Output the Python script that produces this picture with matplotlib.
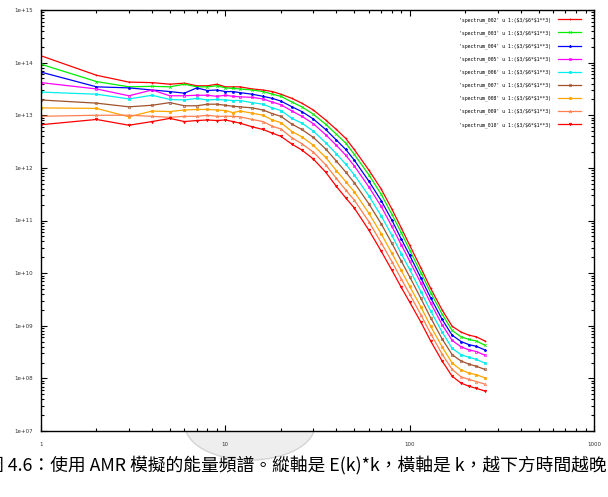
import numpy as np
import matplotlib
matplotlib.use('Agg')
import matplotlib.pyplot as plt
from matplotlib.patches import Ellipse
from matplotlib.ticker import FixedLocator, LogLocator, FuncFormatter, NullFormatter

plt.rcParams['text.parse_math'] = False

# wavenumber k (read positions along the curves)
k = [1, 2, 3, 4, 5, 6, 7, 8, 9, 10, 11, 12, 14, 16, 18, 20, 23, 26, 30, 35,
     40, 45, 50, 60, 70, 80, 90, 100, 115, 130, 150, 170, 190, 210, 230, 256]

# log10 of E(k)*k, one list per output file
spec_002 = [14.13, 13.76, 13.63, 13.62, 13.59, 13.61, 13.56, 13.56, 13.59, 13.54, 13.54, 13.54,
            13.50, 13.48, 13.45, 13.40, 13.32, 13.23, 13.10, 12.91, 12.73, 12.56, 12.35, 11.96,
            11.60, 11.22, 10.86, 10.53, 10.10, 9.71, 9.30, 8.99, 8.88, 8.82, 8.79, 8.71]
spec_003 = [13.97, 13.64, 13.54, 13.55, 13.54, 13.59, 13.54, 13.54, 13.56, 13.52, 13.51, 13.50,
            13.48, 13.45, 13.40, 13.36, 13.25, 13.16, 13.02, 12.83, 12.64, 12.47, 12.26, 11.87,
            11.50, 11.12, 10.77, 10.44, 10.01, 9.63, 9.22, 8.91, 8.79, 8.74, 8.71, 8.63]
spec_004 = [13.82, 13.54, 13.52, 13.48, 13.45, 13.42, 13.52, 13.47, 13.48, 13.45, 13.45, 13.43,
            13.40, 13.36, 13.32, 13.27, 13.16, 13.07, 12.93, 12.73, 12.53, 12.35, 12.15, 11.75,
            11.38, 11.01, 10.65, 10.34, 9.91, 9.53, 9.12, 8.82, 8.70, 8.64, 8.61, 8.54]
spec_005 = [13.62, 13.50, 13.37, 13.48, 13.37, 13.37, 13.38, 13.38, 13.36, 13.38, 13.36, 13.35,
            13.34, 13.31, 13.25, 13.20, 13.08, 12.98, 12.84, 12.63, 12.43, 12.24, 12.04, 11.64,
            11.27, 10.89, 10.54, 10.23, 9.81, 9.43, 9.02, 8.72, 8.60, 8.54, 8.51, 8.44]
spec_006 = [13.44, 13.40, 13.31, 13.38, 13.30, 13.29, 13.32, 13.29, 13.30, 13.29, 13.28, 13.28,
            13.24, 13.21, 13.14, 13.09, 12.94, 12.85, 12.70, 12.48, 12.27, 12.07, 11.87, 11.47,
            11.09, 10.72, 10.37, 10.07, 9.65, 9.28, 8.88, 8.57, 8.45, 8.40, 8.36, 8.29]
spec_007 = [13.29, 13.23, 13.16, 13.19, 13.24, 13.18, 13.18, 13.21, 13.21, 13.19, 13.17, 13.16,
            13.14, 13.10, 13.03, 12.98, 12.83, 12.73, 12.58, 12.36, 12.13, 11.92, 11.72, 11.32,
            10.94, 10.57, 10.23, 9.93, 9.52, 9.15, 8.75, 8.45, 8.33, 8.27, 8.23, 8.17]
spec_008 = [13.14, 13.13, 12.97, 13.08, 13.07, 13.10, 13.11, 13.11, 13.10, 13.09, 13.05, 13.08,
            13.04, 13.00, 12.91, 12.86, 12.69, 12.59, 12.43, 12.20, 11.95, 11.74, 11.55, 11.14,
            10.75, 10.38, 10.05, 9.75, 9.36, 8.99, 8.60, 8.29, 8.16, 8.10, 8.07, 8.01]
spec_009 = [12.98, 13.00, 13.00, 12.98, 12.96, 12.98, 12.98, 13.00, 12.98, 12.98, 12.98, 12.97,
            12.92, 12.88, 12.79, 12.74, 12.57, 12.46, 12.30, 12.06, 11.80, 11.58, 11.39, 10.98,
            10.58, 10.22, 9.89, 9.60, 9.21, 8.85, 8.46, 8.17, 8.03, 7.98, 7.94, 7.89]
spec_010 = [12.82, 12.92, 12.81, 12.88, 12.94, 12.88, 12.90, 12.91, 12.90, 12.91, 12.88, 12.85,
            12.78, 12.73, 12.66, 12.60, 12.45, 12.34, 12.17, 11.92, 11.65, 11.43, 11.24, 10.82,
            10.42, 10.06, 9.73, 9.45, 9.07, 8.71, 8.33, 8.04, 7.91, 7.85, 7.81, 7.76]

names = ['002', '003', '004', '005', '006', '007', '008', '009', '010']
series = [spec_002, spec_003, spec_004, spec_005, spec_006, spec_007, spec_008, spec_009, spec_010]

# gnuplot-ish default colours and point types
colors = ['#ff0000', '#00ee00', '#0000ff', '#ff00ff', '#00eeee', '#a0522d', '#ffa500', '#ff7f50', '#ff0000']
markers = ['+', 'x', '*', 's', 's', 'o', 'o', '^', 'v']
fills = ['none', 'none', 'full', 'none', 'full', 'none', 'full', 'none', 'full']

fig = plt.figure(figsize=(6.08, 4.97), dpi=100)

# faint seal showing through the scanned page, under the plot
fig.patches.append(Ellipse((250/608, 1 - 425/497), 130/608, 70/497, transform=fig.transFigure,
                           facecolor='#eeeeee', edgecolor='#d4d4d4', lw=1.0, zorder=-5))

ax = fig.add_axes([41/608, 1 - 431/497, (594-41)/608, (431-10)/497])
ax.set_zorder(1)

for name, vals, c, m, fs in zip(names, series, colors, markers, fills):
    ax.plot(k, 10**np.array(vals), color=c, lw=0.9, marker=m, ms=1.8, mew=0.5,
            fillstyle=fs, label="'spectrum_%s' u 1:($3/$6*$1**3)" % name)

ax.set_xscale('log')
ax.set_yscale('log')
ax.set_xlim(1, 1000)
ax.set_ylim(1e7, 1e15)

ax.xaxis.set_major_locator(FixedLocator([1, 10, 100, 1000]))
ax.xaxis.set_major_formatter(FuncFormatter(lambda v, _: '%d' % v))
ax.yaxis.set_major_locator(FixedLocator([10.0**e for e in range(7, 16)]))
ax.yaxis.set_major_formatter(FuncFormatter(lambda v, _: '%.0e' % v))
ax.xaxis.set_minor_locator(LogLocator(base=10, subs=np.arange(2, 10)))
ax.yaxis.set_minor_locator(LogLocator(base=10, subs=np.arange(2, 10)))
ax.xaxis.set_minor_formatter(NullFormatter())
ax.yaxis.set_minor_formatter(NullFormatter())

ax.tick_params(which='both', direction='in', top=True, right=True, width=0.8,
               labelsize=4, labelcolor='#333333')
ax.tick_params(which='major', length=4)
ax.tick_params(which='minor', length=2)
ax.tick_params(axis='x', pad=8)
ax.tick_params(axis='y', pad=6)
for s in ax.spines.values():
    s.set_linewidth(1.0)

leg = ax.legend(loc='upper right', frameon=False, markerfirst=False,
                prop={'family': 'DejaVu Sans Mono', 'size': 3.5},
                handlelength=4.7, handletextpad=1.4, labelspacing=1.55,
                borderaxespad=0.0)
leg.set_bbox_to_anchor((583/608, 1 - 15/497), transform=fig.transFigure)

fig.text(-14/608, 1 - 465/497,
         '圖 4.6：使用 AMR 模擬的能量頻譜。縱軸是 E(k)*k，橫軸是 k，越下方時間越晚',
         family=['Noto Sans CJK TC', 'DejaVu Sans'], fontsize=12.8, ha='left', va='center',
         zorder=2)

fig.savefig('out.png', dpi=100)
